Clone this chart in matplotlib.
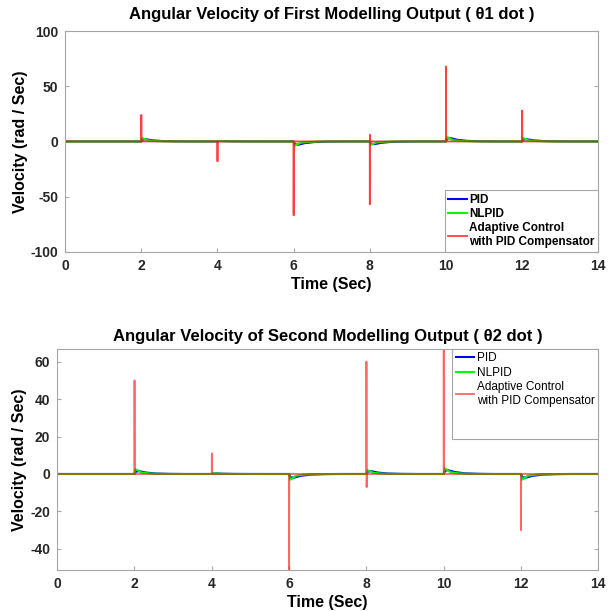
import numpy as np
import matplotlib.pyplot as plt
from matplotlib.lines import Line2D

plt.rcParams["font.family"] = ["Liberation Sans", "DejaVu Sans"]
plt.rcParams["axes.unicode_minus"] = False

# switching instants (s)
event_times = [2, 4, 6, 8, 10, 12]

# theta1 dot: adaptive control spike peaks (rad/s), and rebound after spike
adaptive1_peak = [24, -18, -67, -57, 68, 28]
adaptive1_rebound = [0, 0, 0, 6, 0, 0]
pid1_peak = [2.0, 0.3, -3.0, -2.5, 3.0, 2.0]
nlpid1_peak = [3.0, 0.5, -4.0, -3.0, 4.0, 3.0]

# theta2 dot
adaptive2_peak = [50, 11, -55, 60, 70, -30]
adaptive2_rebound = [0, 0, 0, -7, 0, 0]
pid2_peak = [1.5, 0.3, -2.0, 1.5, 2.0, -2.0]
nlpid2_peak = [2.5, 0.4, -3.0, 2.0, 3.0, -3.0]

# shape of the PID / NLPID transient after each switch (offset s, fraction of peak)
pid_shape_dt = [0.0, 0.04, 0.12, 0.3, 0.55, 0.9, 1.3]
pid_shape_frac = [0.0, 0.9, 1.0, 0.5, 0.18, 0.05, 0.0]
nlpid_shape_dt = [0.0, 0.03, 0.08, 0.18, 0.4, 0.7, 1.1]
nlpid_shape_frac = [0.0, 1.0, 0.8, 0.3, 0.1, 0.02, 0.0]


def transient_curve(peaks, shape_dt, shape_frac):
    t = [0.0]
    y = [0.0]
    for t0, p in zip(event_times, peaks):
        for dt, f in zip(shape_dt, shape_frac):
            t.append(t0 + dt)
            y.append(p * f)
    t.append(14.0)
    y.append(0.0)
    return t, y


def spike_curve(peaks, rebounds):
    t = [0.0]
    y = [0.0]
    for t0, p, r in zip(event_times, peaks, rebounds):
        t += [t0, t0 + 0.002, t0 + 0.006, t0 + 0.012, t0 + 0.02]
        y += [0.0, p, r, r * 0.3, 0.0]
    t.append(14.0)
    y.append(0.0)
    return t, y


def style_axes(ax):
    for s in ax.spines.values():
        s.set_color("#a6a6a6")
        s.set_linewidth(0.8)
    ax.tick_params(direction="in", length=3, color="#a6a6a6", labelsize=10,
                   right=True, top=False, pad=5)
    for lbl in ax.get_xticklabels() + ax.get_yticklabels():
        lbl.set_fontweight("bold")
        lbl.set_color("#262626")
    ax.set_xlabel("Time (Sec)", fontsize=11.5, fontweight="bold", labelpad=3)
    ax.set_ylabel("Velocity (rad / Sec)", fontsize=11.5, fontweight="bold", labelpad=2)


fig = plt.figure(figsize=(6.08, 6.11), dpi=100)
ax1 = fig.add_axes([0.107, 0.588, 0.877, 0.361])
ax2 = fig.add_axes([0.094, 0.067, 0.890, 0.362])

# top panel
t, y = transient_curve(pid1_peak, pid_shape_dt, pid_shape_frac)
ax1.plot(t, y, color="#0000ff", lw=1.5, label="PID")
t, y = transient_curve(nlpid1_peak, nlpid_shape_dt, nlpid_shape_frac)
ax1.plot(t, y, color="#00ff00", lw=1.5, label="NLPID")
t, y = spike_curve(adaptive1_peak, adaptive1_rebound)
ax1.plot(t, y, color="#ff0000", lw=1.3, alpha=0.75,
         label="Adaptive Control\nwith PID Compensator")
ax1.set_xlim(0, 14)
ax1.set_ylim(-100, 100)
ax1.set_xticks(range(0, 15, 2))
ax1.set_yticks([-100, -50, 0, 50, 100])
ax1.set_title("Angular Velocity of First Modelling Output ( θ1 dot )",
              fontsize=12, fontweight="bold", pad=9)
style_axes(ax1)
leg1 = ax1.legend(loc="lower right", handlelength=1.6,
                  handletextpad=0.2, borderpad=0.3, labelspacing=0.2,
                  fancybox=False, borderaxespad=0, framealpha=1,
                  prop={"weight": "bold", "size": 8.5})
leg1.get_frame().set_edgecolor("#a6a6a6")
leg1.get_frame().set_linewidth(0.8)

# bottom panel
t, y = transient_curve(pid2_peak, pid_shape_dt, pid_shape_frac)
ax2.plot(t, y, color="#0000ff", lw=1.5, label="PID")
t, y = transient_curve(nlpid2_peak, nlpid_shape_dt, nlpid_shape_frac)
ax2.plot(t, y, color="#00ff00", lw=1.5, label="NLPID")
t, y = spike_curve(adaptive2_peak, adaptive2_rebound)
ax2.plot(t, y, color="#ff0000", lw=1.3, alpha=0.6,
         label="Adaptive Control\nwith PID Compensator")
ax2.set_xlim(0, 14)
ax2.set_ylim(-51.3, 66.8)
ax2.set_xticks(range(0, 15, 2))
ax2.set_yticks([-40, -20, 0, 20, 40, 60])
ax2.set_title("Angular Velocity of Second Modelling Output ( θ2 dot )",
              fontsize=12, fontweight="bold", pad=6)
style_axes(ax2)
handles, labels = ax2.get_legend_handles_labels()
handles.append(Line2D([], [], color="none"))
labels.append("\n")
leg2 = ax2.legend(handles, labels, loc="upper right", fontsize=8.5,
                  handlelength=1.6, handletextpad=0.2, borderpad=0.3,
                  labelspacing=0.2, fancybox=False, borderaxespad=0,
                  framealpha=1)
leg2.get_frame().set_edgecolor("#a6a6a6")
leg2.get_frame().set_linewidth(0.8)

fig.savefig("out.png", dpi=100)
